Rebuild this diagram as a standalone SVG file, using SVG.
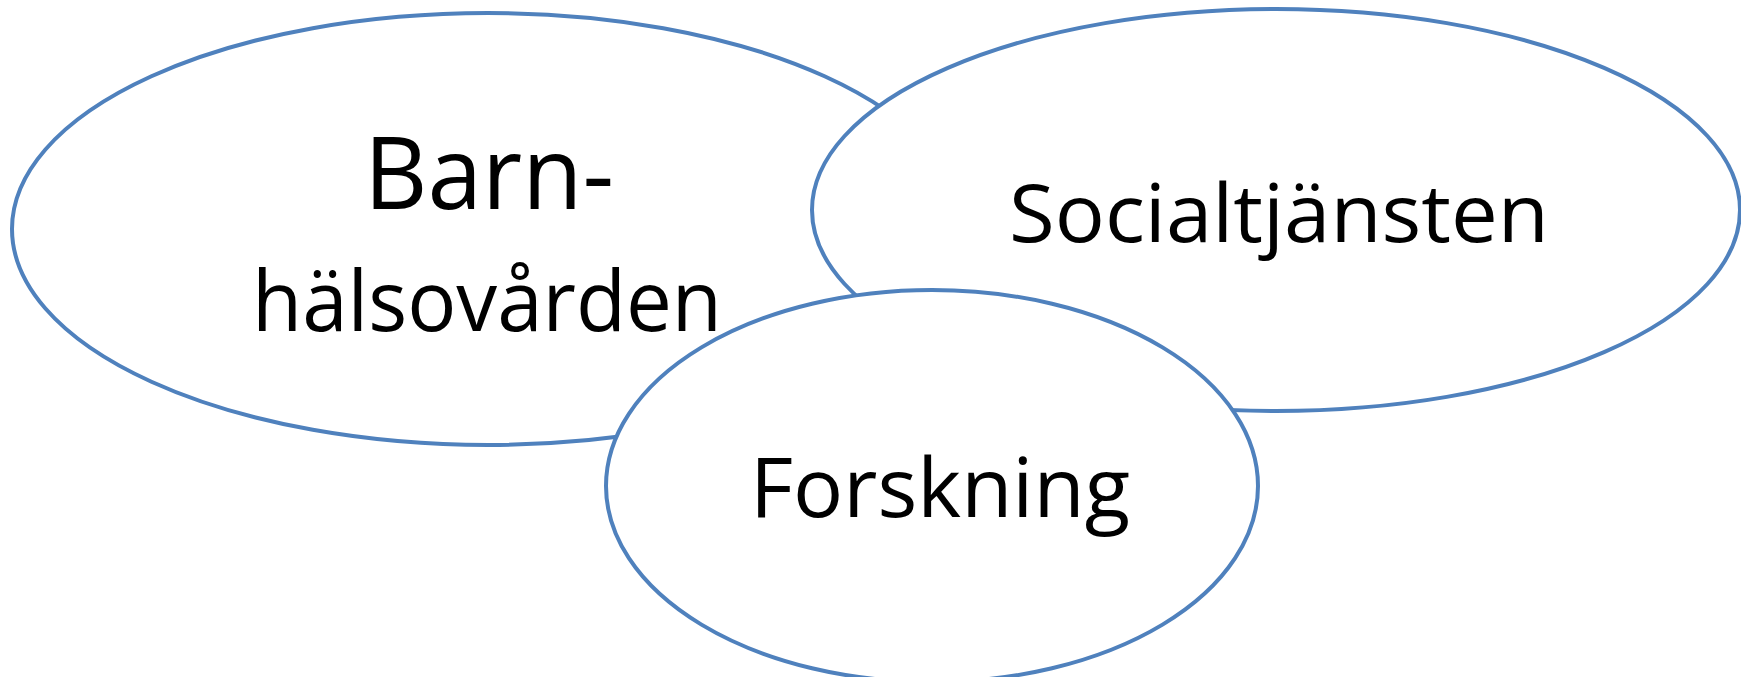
<svg xmlns="http://www.w3.org/2000/svg" width="1741" height="677" viewBox="0 0 1741 677">
  <style>
    .node ellipse { fill: #ffffff; stroke: #4F81BD; stroke-width: 4; }
    .lbl { font-family: "Open Sans", "Noto Sans", "Liberation Sans", sans-serif; fill: #000000; text-anchor: middle; }
  </style>
  <rect width="1741" height="677" fill="#ffffff"/>
  <g id="node-barnhalsovarden" class="node">
    <ellipse cx="488" cy="229" rx="476" ry="216"/>
    <text class="lbl" x="489" y="209" font-size="101" textLength="250" lengthAdjust="spacingAndGlyphs">Barn-</text>
    <text class="lbl" x="487" y="331" font-size="85" textLength="470" lengthAdjust="spacingAndGlyphs">hälsovården</text>
  </g>
  <g id="node-socialtjansten" class="node">
    <ellipse cx="1276" cy="210" rx="464" ry="201"/>
    <text class="lbl" x="1279" y="242" font-size="81" textLength="540" lengthAdjust="spacingAndGlyphs">Socialtjänsten</text>
  </g>
  <g id="node-forskning" class="node">
    <ellipse cx="932" cy="486" rx="326" ry="196"/>
    <text class="lbl" x="940" y="517" font-size="83" textLength="380" lengthAdjust="spacingAndGlyphs">Forskning</text>
  </g>
  <g id="connectors"></g>
</svg>
